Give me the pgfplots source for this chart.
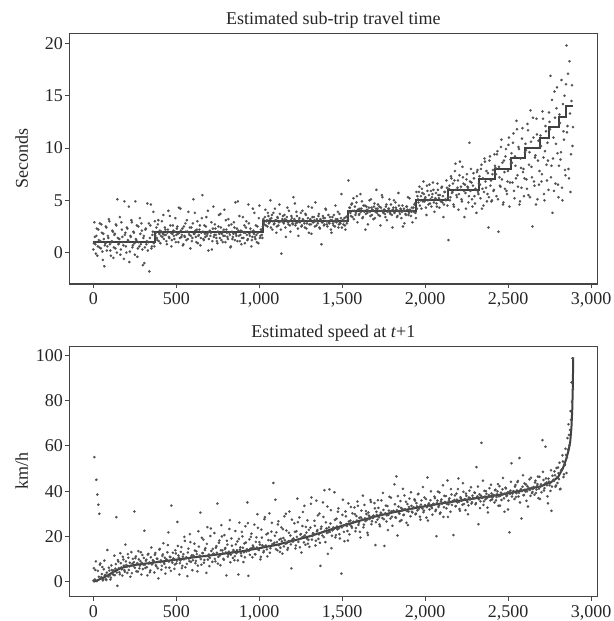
\documentclass[border=0pt]{standalone}
\usepackage{fontspec}
\setmainfont{Liberation Serif}
\usepackage{pgfplots}
\usepackage{pgfplotstable}
\pgfplotsset{compat=1.18}
\definecolor{dotgray}{HTML}{505050}
\definecolor{linegray}{HTML}{404040}
\definecolor{framegray}{HTML}{454545}

% sub-trip travel time, observations in index order (one row each)
\pgfplotstableread[row sep=\\, header=false]{
0.3\\2.9\\0.8\\1.6\\-0.3\\2.2\\0.5\\1.1\\2.7\\0.1\\
1.8\\-1.3\\0.9\\2.4\\0.6\\1.4\\3.0\\0.2\\1.0\\2.1\\
-0.5\\1.7\\0.4\\2.6\\5.1\\0.8\\1.3\\-0.2\\2.9\\1.5\\
0.7\\4.9\\1.9\\0.0\\2.3\\1.1\\-0.9\\1.6\\3.1\\0.5\\
2.0\\0.9\\4.9\\1.2\\-0.4\\2.5\\0.6\\1.8\\2.8\\0.3\\
1.4\\-1.0\\2.2\\0.8\\4.7\\1.0\\-1.8\\2.6\\0.4\\1.7\\
3.9\\0.6\\
1.6\\2.4\\1.2\\3.1\\1.8\\0.9\\2.0\\1.5\\3.6\\1.7\\
2.2\\1.1\\1.9\\4.0\\1.4\\2.6\\0.6\\1.8\\2.1\\1.3\\
3.3\\1.7\\2.5\\1.0\\1.9\\4.2\\1.5\\2.3\\0.8\\1.6\\
2.8\\1.2\\2.0\\3.9\\1.7\\0.4\\2.4\\1.4\\5.1\\1.8\\
2.1\\1.0\\3.0\\1.6\\2.2\\0.7\\1.9\\5.5\\1.3\\2.6\\
1.5\\3.4\\1.8\\0.2\\2.0\\1.6\\2.9\\1.1\\4.4\\1.7\\
2.3\\1.4\\0.9\\2.5\\1.8\\3.7\\1.2\\2.0\\1.6\\4.1\\
1.0\\2.2\\1.5\\3.2\\1.9\\0.5\\2.7\\1.3\\1.8\\2.4\\
4.8\\1.6\\1.1\\2.1\\3.5\\1.7\\0.8\\2.0\\1.4\\2.6\\
1.9\\3.0\\1.2\\4.6\\1.8\\2.3\\0.6\\1.5\\2.1\\3.8\\
1.3\\1.7\\2.5\\0.9\\4.5\\1.6\\2.2\\1.4\\
3.2\\2.7\\4.1\\3.0\\2.5\\3.5\\2.9\\5.0\\3.3\\2.2\\
3.8\\2.8\\3.1\\1.9\\3.4\\2.6\\4.6\\3.0\\-0.1\\3.2\\
2.9\\3.6\\2.4\\3.1\\4.3\\2.7\\3.0\\2.0\\3.5\\2.8\\
5.3\\3.2\\2.6\\3.9\\2.9\\1.6\\3.3\\3.0\\2.5\\4.0\\
3.1\\2.8\\3.7\\2.3\\3.0\\4.4\\2.7\\3.2\\1.8\\3.4\\
2.9\\3.1\\4.8\\2.6\\3.0\\3.5\\2.4\\3.2\\0.8\\2.9\\
3.3\\2.7\\4.2\\3.0\\2.5\\3.6\\2.8\\3.1\\1.9\\3.4\\
2.6\\3.0\\4.5\\2.9\\3.2\\2.4\\3.7\\2.8\\5.6\\3.1\\
2.7\\3.3\\2.2\\3.0\\3.5\\
6.9\\4.3\\3.8\\4.6\\3.4\\5.2\\4.0\\3.6\\4.8\\2.9\\
4.1\\3.7\\5.6\\4.2\\3.3\\4.5\\3.9\\2.2\\4.4\\3.8\\
4.0\\5.0\\3.5\\4.3\\4.1\\3.2\\4.7\\3.9\\6.0\\4.2\\
3.6\\4.4\\2.6\\4.0\\5.3\\3.8\\4.1\\3.4\\4.6\\3.9\\
4.2\\5.1\\3.7\\4.0\\2.4\\4.3\\3.8\\4.8\\4.1\\3.5\\
5.7\\3.9\\4.2\\3.3\\4.5\\4.0\\2.8\\3.7\\4.4\\4.1\\
3.6\\5.2\\4.0\\3.9\\2.9\\4.3\\4.6\\3.8\\5.8\\
5.4\\4.8\\6.3\\5.0\\4.2\\5.7\\6.8\\4.9\\5.3\\3.6\\
5.9\\4.6\\6.5\\5.1\\4.4\\5.6\\6.0\\3.9\\5.2\\4.7\\
6.6\\5.5\\4.3\\5.0\\6.2\\4.8\\3.4\\5.8\\5.1\\6.9\\
4.5\\
1.2\\6.4\\5.3\\7.1\\5.8\\4.6\\6.9\\8.5\\5.5\\6.2\\
4.1\\7.4\\6.0\\5.1\\8.2\\6.6\\3.4\\5.7\\7.0\\6.3\\
4.8\\10.5\\5.9\\6.7\\4.4\\7.6\\5.4\\6.1\\3.8\\7.9\\
5.6\\
7.3\\5.2\\8.4\\6.1\\4.5\\9.0\\6.8\\7.8\\5.6\\2.4\\
8.8\\6.4\\4.9\\7.5\\5.9\\9.4\\
8.1\\5.4\\9.7\\2.0\\7.2\\6.3\\10.8\\8.6\\4.8\\7.7\\
9.2\\5.9\\6.8\\10.3\\4.4\\8.9\\
9.5\\6.7\\11.4\\5.2\\8.3\\12.6\\7.4\\10.1\\4.6\\9.0\\
6.2\\11.9\\8.0\\7.1\\
10.4\\7.0\\12.3\\5.5\\9.6\\13.6\\8.2\\2.5\\11.0\\6.4\\
9.3\\12.8\\5.1\\10.7\\7.8\\
11.2\\6.8\\13.5\\9.1\\5.0\\12.1\\8.4\\10.5\\6.0\\
12.5\\16.9\\8.3\\3.8\\11.0\\15.4\\6.6\\13.8\\9.5\\5.3\\
13.2\\8.9\\16.5\\5.0\\11.6\\15.0\\7.4\\
19.8\\12.1\\8.0\\18.3\\5.8\\14.5\\10.2\\
}\timedata

% the in-between observations of the same series
\pgfplotstableread[row sep=\\, header=false]{
0.9\\1.5\\-0.1\\2.3\\0.6\\1.2\\2.8\\0.4\\1.9\\-0.7\\
1.3\\0.7\\2.5\\0.2\\1.6\\3.2\\0.8\\-0.3\\1.1\\2.0\\
0.5\\1.8\\2.7\\0.0\\1.4\\0.9\\3.4\\0.3\\2.2\\1.0\\
-0.6\\1.7\\0.6\\2.4\\1.2\\4.4\\0.1\\1.5\\2.9\\0.7\\
1.9\\-0.2\\1.3\\2.6\\0.4\\1.0\\3.3\\0.8\\2.1\\-1.2\\
1.6\\0.5\\2.3\\1.1\\0.2\\2.8\\1.4\\4.6\\0.6\\2.0\\
0.9\\3.0\\
1.9\\1.4\\2.7\\1.1\\2.1\\1.6\\3.0\\1.8\\1.3\\2.4\\
1.7\\0.8\\2.2\\1.5\\3.5\\1.9\\1.2\\2.6\\1.6\\2.0\\
1.0\\2.3\\1.8\\4.3\\1.4\\2.1\\1.7\\0.7\\2.5\\1.5\\
2.0\\3.1\\1.3\\1.9\\2.4\\1.6\\1.1\\2.8\\1.8\\3.8\\
1.5\\2.2\\0.9\\1.7\\2.6\\1.4\\3.3\\2.0\\1.2\\1.8\\
2.5\\1.6\\4.0\\1.3\\2.1\\1.9\\0.3\\2.3\\1.5\\2.7\\
1.7\\1.1\\2.0\\3.6\\1.4\\2.4\\1.8\\1.0\\2.2\\1.6\\
3.1\\1.9\\1.3\\2.6\\1.7\\0.6\\2.0\\1.5\\2.9\\1.2\\
1.8\\2.3\\4.9\\1.6\\1.1\\2.1\\1.4\\3.4\\1.9\\0.9\\
2.4\\1.7\\1.3\\2.8\\1.6\\2.0\\1.2\\4.2\\1.8\\1.5\\
2.6\\1.0\\1.9\\3.3\\1.4\\2.2\\1.7\\2.5\\
2.9\\3.4\\2.6\\3.1\\3.8\\2.8\\3.2\\2.4\\3.6\\3.0\\
2.7\\4.2\\3.1\\2.5\\3.3\\2.9\\3.7\\2.2\\3.0\\3.5\\
2.8\\3.2\\1.5\\3.4\\2.9\\4.0\\2.6\\3.1\\3.3\\2.7\\
3.0\\4.7\\2.8\\3.5\\2.3\\3.1\\2.9\\3.8\\2.6\\3.2\\
3.0\\2.4\\3.6\\2.8\\3.3\\1.9\\3.1\\2.7\\4.3\\2.9\\
3.4\\2.5\\3.0\\3.2\\2.8\\3.7\\2.3\\3.1\\2.9\\3.5\\
2.6\\3.3\\4.1\\2.7\\3.0\\2.9\\3.4\\2.2\\3.1\\2.8\\
3.6\\2.5\\3.2\\3.0\\3.9\\2.7\\2.9\\3.3\\2.4\\3.1\\
3.0\\2.6\\3.4\\2.8\\3.2\\
3.9\\4.3\\3.5\\4.7\\4.0\\3.2\\4.4\\3.8\\5.4\\4.1\\
3.6\\4.2\\3.9\\4.9\\3.4\\4.0\\4.5\\3.7\\4.1\\2.7\\
4.3\\3.9\\5.1\\3.6\\4.0\\4.4\\3.3\\4.2\\3.8\\4.6\\
4.0\\3.5\\4.3\\5.5\\3.9\\4.1\\3.7\\4.4\\3.1\\4.0\\
4.2\\3.8\\4.6\\3.6\\4.1\\5.0\\3.9\\4.3\\3.4\\4.0\\
4.5\\3.7\\4.1\\3.9\\2.5\\4.2\\4.0\\3.6\\4.4\\5.3\\
3.8\\4.1\\3.5\\4.3\\4.0\\3.9\\4.7\\3.3\\4.2\\
5.1\\5.8\\4.5\\5.4\\6.1\\4.9\\5.6\\5.2\\4.3\\6.4\\
5.0\\5.5\\4.7\\5.9\\5.3\\6.7\\4.8\\5.1\\5.7\\4.4\\
6.0\\5.2\\5.5\\4.9\\6.3\\5.4\\4.6\\5.8\\5.0\\6.2\\
5.3\\
6.1\\5.0\\7.3\\5.7\\6.6\\4.4\\7.8\\6.0\\5.3\\6.9\\
5.6\\8.7\\6.3\\4.9\\7.2\\5.9\\6.5\\4.2\\7.5\\6.2\\
5.4\\6.8\\8.0\\5.1\\6.4\\7.1\\4.7\\6.0\\7.7\\5.8\\
6.6\\
6.5\\8.0\\4.2\\7.1\\5.8\\8.7\\6.2\\4.9\\7.6\\5.3\\
9.2\\6.9\\5.0\\7.9\\6.0\\8.3\\
7.5\\9.4\\5.1\\8.2\\6.4\\10.1\\7.0\\4.6\\8.8\\6.1\\
9.9\\5.6\\7.8\\11.0\\6.7\\8.5\\
8.6\\10.5\\5.9\\9.2\\7.1\\11.8\\6.3\\9.9\\4.9\\8.1\\
10.9\\7.7\\5.4\\9.6\\
9.8\\6.1\\11.7\\8.4\\5.3\\10.6\\7.2\\12.9\\6.8\\9.1\\
4.6\\11.3\\8.8\\6.5\\10.1\\
10.2\\7.5\\12.8\\5.6\\9.7\\11.6\\6.9\\8.8\\13.4\\
11.8\\7.2\\14.6\\9.0\\5.9\\12.9\\10.4\\15.8\\6.5\\8.3\\
12.4\\9.6\\6.2\\14.2\\10.8\\7.9\\16.1\\
11.5\\17.1\\7.1\\13.3\\9.4\\16.0\\12.0\\
}\timedataB

% speed at t+1, observations in index order
\pgfplotstableread[row sep=\\, header=false]{
0.5\\55\\5.2\\45\\38.5\\34\\30\\8.1\\2.0\\6.5\\1.2\\9.3\\3.0\\0.8\\14.0\\2.4\\4.9\\1.0\\7.2\\3.5\\
3.1\\11.5\\5.8\\28.5\\-1.8\\8.9\\4.2\\12.6\\6.3\\2.7\\9.8\\5.1\\16.4\\7.4\\3.9\\10.6\\6.8\\2.2\\13.1\\8.0\\
7.0\\31.0\\10.4\\4.6\\8.2\\13.5\\5.9\\9.1\\3.2\\11.8\\7.6\\22.5\\6.1\\9.7\\2.8\\12.3\\8.5\\5.0\\15.1\\7.9\\
9.2\\4.1\\12.7\\6.8\\10.1\\1.5\\14.2\\8.7\\5.3\\11.4\\17.0\\7.9\\3.6\\9.8\\13.0\\21.8\\6.2\\10.9\\33.6\\8.4\\
10.3\\5.7\\13.9\\8.1\\26.4\\11.6\\3.2\\9.4\\15.3\\7.0\\12.2\\19.8\\6.4\\10.8\\2.5\\14.6\\9.1\\17.5\\11.3\\5.1\\
11.5\\16.8\\8.2\\13.4\\4.6\\22.3\\10.9\\30.5\\7.5\\12.7\\18.6\\9.6\\14.8\\3.9\\24.1\\11.2\\6.9\\20.2\\13.6\\8.8\\
12.4\\21.5\\9.0\\15.7\\34.5\\11.0\\18.2\\7.3\\25.0\\13.8\\10.1\\20.6\\14.9\\2.8\\16.4\\12.0\\23.3\\8.6\\19.1\\13.1\\
14.0\\9.5\\22.4\\12.6\\17.8\\3.2\\26.1\\15.2\\11.4\\20.0\\8.7\\16.9\\24.5\\13.3\\35.0\\2.6\\18.7\\14.6\\21.2\\10.8\\
15.3\\25.2\\12.1\\19.6\\29.8\\14.2\\17.5\\9.9\\23.0\\16.1\\13.0\\27.6\\15.7\\20.9\\11.2\\18.4\\30.2\\14.8\\22.1\\16.6\\
43.6\\17.2\\36.2\\21.8\\13.9\\26.7\\18.6\\15.0\\24.0\\12.4\\19.3\\28.9\\16.8\\22.6\\14.1\\17.9\\31.0\\20.4\\5.9\\18.7\\
19.1\\25.8\\14.7\\22.3\\36.7\\17.6\\28.4\\20.8\\12.9\\24.6\\19.9\\33.5\\16.3\\21.7\\27.1\\18.5\\15.4\\23.9\\37.2\\20.2\\
21.3\\26.9\\16.0\\35.8\\22.8\\18.9\\30.1\\7.0\\24.3\\20.4\\28.6\\40.4\\17.5\\23.5\\33.2\\21.9\\40.8\\25.7\\14.8\\22.7\\
24.0\\39.5\\19.6\\27.8\\23.1\\32.4\\21.0\\26.2\\3.6\\29.5\\24.8\\17.9\\31.0\\25.5\\22.4\\34.6\\20.9\\27.0\\24.5\\30.2\\
26.5\\32.8\\22.3\\29.0\\35.4\\25.1\\28.2\\19.5\\31.4\\27.3\\24.0\\33.9\\26.8\\29.9\\21.6\\30.6\\27.7\\36.1\\25.4\\28.8\\
29.2\\34.7\\16.2\\30.9\\27.4\\32.6\\25.3\\29.8\\35.9\\28.1\\31.7\\15.8\\30.2\\26.6\\33.4\\29.5\\37.5\\27.9\\31.1\\24.7\\
31.3\\43.0\\28.5\\46.5\\20.4\\33.2\\30.0\\35.6\\27.2\\32.1\\29.4\\38.1\\31.8\\26.0\\34.3\\31.0\\36.7\\28.9\\33.5\\30.6\\
32.9\\36.4\\29.8\\34.7\\31.5\\38.8\\33.1\\27.4\\35.9\\32.3\\30.7\\37.2\\33.6\\28.3\\46.0\\34.1\\31.9\\36.0\\33.0\\29.6\\
34.4\\37.6\\31.2\\20.1\\35.8\\33.0\\39.4\\30.5\\36.3\\34.7\\28.6\\37.9\\35.0\\32.4\\44.7\\34.2\\36.8\\30.9\\38.5\\35.5\\
20.6\\36.1\\33.3\\38.9\\35.0\\45.6\\32.1\\37.3\\35.8\\34.0\\39.7\\36.4\\31.6\\37.9\\35.2\\33.7\\40.2\\36.7\\34.5\\38.0\\
36.9\\39.4\\34.2\\50.6\\37.7\\25.4\\38.6\\35.5\\61.3\\37.0\\33.9\\40.1\\36.4\\38.8\\32.7\\37.5\\41.3\\35.9\\39.0\\37.2\\
38.3\\35.0\\40.6\\37.4\\39.9\\33.5\\42.2\\38.0\\36.1\\40.8\\38.7\\30.9\\41.5\\37.8\\39.4\\35.8\\21.8\\40.2\\52.3\\38.9\\
40.0\\36.5\\42.7\\39.1\\44.0\\37.6\\54.6\\40.5\\27.9\\41.9\\38.2\\43.4\\39.8\\35.7\\42.1\\40.9\\45.2\\37.9\\41.4\\39.6\\
41.8\\38.4\\44.6\\40.7\\43.1\\36.9\\46.3\\42.0\\39.5\\62.5\\44.9\\41.3\\59.6\\43.8\\37.7\\45.5\\42.6\\40.1\\31.3\\46.8\\
45.0\\48.7\\41.9\\50.2\\43.6\\47.9\\52.5\\41.0\\49.4\\55.8\\46.2\\51.3\\58.7\\48.0\\63.4\\69.5\\60.2\\75.3\\88.0\\98.6\\
}\speeddata

% the in-between observations of the same series
\pgfplotstableread[row sep=\\, header=false]{
6.0\\1.0\\9.0\\0.3\\4.8\\2.2\\7.5\\1.5\\3.4\\0.6\\5.5\\2.8\\1.1\\4.0\\2.5\\6.2\\3.0\\1.8\\5.2\\4.3\\
5.0\\2.9\\7.8\\4.1\\9.6\\6.0\\3.3\\8.2\\5.5\\11.0\\7.1\\4.4\\9.0\\6.6\\12.2\\5.2\\8.4\\7.0\\3.8\\10.1\\
8.6\\6.2\\11.2\\7.8\\4.5\\9.9\\7.1\\13.0\\8.3\\5.6\\10.5\\7.5\\9.2\\6.4\\12.0\\8.0\\4.2\\10.8\\7.7\\9.5\\
9.0\\11.9\\7.3\\10.2\\5.9\\8.8\\14.5\\9.4\\7.0\\12.1\\8.5\\10.6\\6.3\\9.7\\16.2\\8.9\\11.0\\4.8\\9.3\\12.8\\
10.0\\7.6\\12.5\\9.3\\15.8\\10.7\\8.2\\13.2\\6.0\\11.1\\9.9\\18.0\\10.4\\7.9\\12.9\\10.2\\21.0\\8.8\\11.7\\9.5\\
11.0\\13.8\\9.2\\12.2\\7.1\\15.5\\11.5\\10.0\\19.4\\12.6\\8.4\\14.0\\11.3\\16.7\\9.8\\12.0\\10.6\\23.5\\11.8\\14.5\\
12.2\\10.1\\15.0\\12.8\\8.0\\17.2\\11.6\\13.9\\20.0\\12.5\\9.7\\14.4\\12.9\\18.1\\11.1\\13.3\\27.2\\12.0\\15.9\\10.5\\
13.4\\11.3\\16.5\\13.9\\9.4\\18.9\\14.2\\12.6\\22.0\\15.0\\13.0\\10.8\\17.3\\14.4\\25.9\\13.6\\11.9\\19.8\\14.8\\16.0\\
14.7\\12.2\\17.6\\15.1\\23.8\\14.0\\16.4\\11.0\\19.5\\15.5\\13.6\\28.5\\16.0\\14.3\\21.4\\15.8\\12.8\\18.2\\26.0\\16.3\\
16.6\\20.3\\14.4\\17.5\\25.3\\16.1\\13.2\\19.0\\17.8\\23.2\\15.6\\18.3\\30.0\\17.0\\14.9\\21.6\\18.0\\16.5\\27.4\\17.7\\
18.4\\22.0\\16.0\\19.8\\26.3\\18.8\\15.2\\21.1\\19.5\\30.8\\17.4\\20.5\\24.2\\19.0\\16.8\\22.9\\20.1\\34.4\\18.6\\21.4\\
21.0\\24.7\\18.1\\22.2\\29.3\\20.9\\17.2\\23.4\\21.8\\35.0\\19.7\\22.5\\26.2\\21.5\\12.3\\24.0\\22.0\\31.6\\20.3\\23.1\\
23.3\\27.3\\20.6\\24.4\\30.9\\23.6\\19.1\\25.8\\24.0\\36.2\\22.0\\25.0\\28.9\\24.6\\18.2\\26.6\\25.2\\33.0\\23.8\\26.0\\
26.3\\29.8\\23.7\\27.0\\33.5\\26.0\\22.0\\28.4\\27.5\\38.0\\25.2\\28.0\\31.2\\27.2\\20.6\\29.2\\28.6\\35.2\\26.7\\28.1\\
28.9\\32.4\\26.3\\29.5\\36.0\\28.4\\24.5\\30.5\\29.7\\39.2\\27.6\\30.0\\33.6\\29.3\\22.8\\31.4\\30.3\\37.1\\28.7\\30.8\\
31.0\\34.2\\28.2\\31.6\\37.8\\30.4\\26.7\\32.6\\31.4\\41.0\\29.6\\32.0\\35.3\\31.2\\25.0\\33.0\\32.1\\39.5\\30.9\\32.4\\
32.7\\35.8\\30.1\\33.3\\38.6\\32.2\\28.7\\34.0\\33.0\\41.8\\31.4\\33.8\\36.5\\32.9\\27.0\\34.6\\33.5\\39.9\\32.5\\34.2\\
34.1\\36.9\\31.8\\34.8\\39.8\\33.7\\30.0\\35.5\\34.5\\42.6\\32.9\\35.2\\37.8\\34.3\\28.6\\36.0\\35.0\\40.9\\33.9\\35.6\\
35.6\\38.1\\33.4\\36.2\\40.9\\35.2\\31.3\\36.8\\35.9\\43.5\\34.3\\36.4\\38.9\\35.7\\29.8\\37.2\\36.3\\41.7\\35.1\\36.9\\
36.8\\39.2\\34.7\\37.4\\42.0\\36.4\\32.5\\38.0\\37.1\\44.6\\35.5\\37.6\\40.0\\36.9\\30.6\\38.3\\37.5\\42.8\\36.3\\38.1\\
38.1\\40.4\\35.9\\38.7\\43.1\\37.7\\33.6\\39.3\\38.4\\45.8\\36.8\\38.9\\41.2\\38.2\\31.9\\39.6\\38.8\\44.1\\37.6\\39.4\\
39.7\\42.0\\37.4\\40.3\\44.5\\39.3\\35.0\\40.9\\40.0\\47.0\\38.3\\40.6\\42.9\\39.9\\33.2\\41.3\\40.5\\45.9\\39.1\\41.0\\
41.5\\43.8\\39.2\\42.2\\46.4\\41.1\\36.5\\43.0\\42.4\\48.5\\40.3\\43.3\\45.6\\42.6\\34.6\\44.2\\43.5\\49.2\\42.0\\44.5\\
44.6\\47.0\\42.5\\46.1\\50.4\\45.3\\40.8\\48.9\\49.6\\53.1\\47.4\\51.8\\56.0\\54.9\\58.3\\64.8\\67.0\\71.5\\79.4\\85.0\\
}\speeddataB

\pgfplotsset{
  panel/.style={
    scale only axis, width=264pt, height=125.3pt,
    xmin=-145, xmax=3038,
    xtick={0,500,...,3000},
    scaled x ticks=false,
    /pgf/number format/1000 sep={,},
    /pgf/number format/assume math mode=true,
    axis line style={framegray, line width=0.6pt},
    tick align=outside, xtick pos=bottom, ytick pos=left,
    major tick length=2pt,
    every tick/.style={framegray, line width=0.5pt},
    tick label style={font=\fontsize{9}{11}\selectfont, text=black!85},
    xticklabel style={inner sep=1pt, yshift=-1pt},
    yticklabel style={inner sep=1pt},
    title style={at={(0.5,1)}, anchor=base, yshift=-1.5pt, font=\fontsize{9}{11}\selectfont, text=black!85},
    ylabel style={at={(axis description cs:-0.09,0.5)}, anchor=center, font=\fontsize{9}{11}\selectfont, text=black!85},
  },
  dots/.style={only marks, mark=*, mark size=0.6pt, color=dotgray, mark options={line width=0.1pt}},
}

\begin{document}
\begin{tikzpicture}
\useasboundingbox (-34.65pt,-168.5pt) rectangle (272.35pt,142pt);

\begin{axis}[panel,
  title={Estimated sub-trip travel time},
  ylabel={Seconds},
  ymin=-3, ymax=20.96,
  ytick={0,5,10,15,20},
]
\addplot[dots] table[x expr=\coordindex*6.03, y index=0] {\timedata};
\addplot[dots] table[x expr=\coordindex*6.03+3, y index=0] {\timedataB};
\addplot[const plot mark left, linegray, line width=1pt] coordinates {
  (0,1) (370,2) (1020,3) (1535,4) (1948,5) (2135,6) (2327,7) (2421,8)
  (2516,9) (2602,10) (2692,11) (2749,12) (2807,13) (2849,14) (2889,14)
};
\end{axis}

\begin{axis}[panel, at={(0,-156.35pt)},
  title={Estimated speed at \textit{t}+1},
  ylabel={km/h},
  ymin=-6.6, ymax=104,
  ytick={0,20,40,60,80,100},
]
\addplot[dots] table[x expr=\coordindex*6.03, y index=0] {\speeddata};
\addplot[dots] table[x expr=\coordindex*6.03+3, y index=0] {\speeddataB};
\addplot[linegray, line width=1pt] coordinates {
  (0,0) (20,0.5) (50,1.5) (80,2.5) (120,4.3) (160,5.8) (200,6.8) (250,7.4) (300,7.9)
  (400,8.8) (500,9.8) (600,10.7) (700,11.6) (800,12.5) (900,13.5) (1000,14.8)
  (1100,16.2) (1200,18) (1300,20) (1400,22.3) (1500,24.7) (1600,26.8)
  (1700,28.8) (1800,30.5) (1900,32) (2000,33.3) (2100,34.6) (2200,35.7)
  (2300,36.8) (2400,37.8) (2500,39) (2600,40.5) (2700,42.2) (2760,44)
  (2800,46) (2830,50) (2850,54) (2865,58) (2875,62) (2882,68) (2887,76)
  (2890,85) (2893,99)
};
\end{axis}
\end{tikzpicture}
\end{document}
